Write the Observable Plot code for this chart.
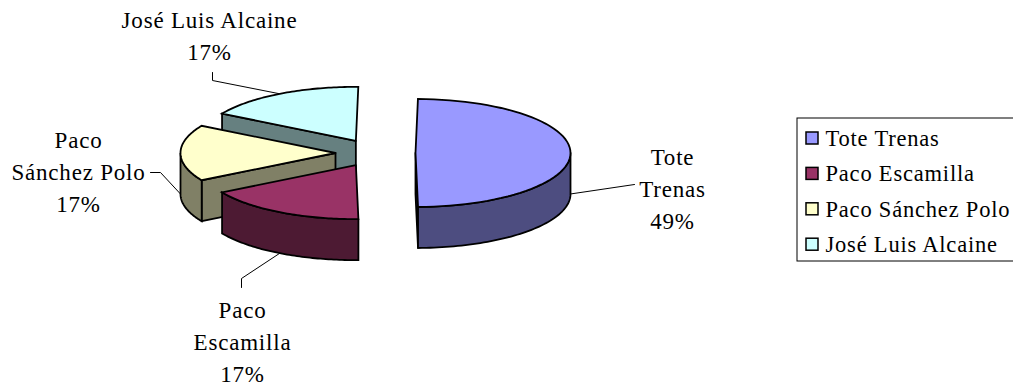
<!DOCTYPE html>
<html lang="es">
<head>
<meta charset="utf-8">
<title>Reparto por autor</title>
<script src="https://cdn.jsdelivr.net/npm/d3@7"></script>
<script src="https://cdn.jsdelivr.net/npm/@observablehq/plot@0.6"></script>
<style>
  html, body { margin: 0; padding: 0; background: #fff; }
</style>
</head>
<body>
<div id="chart"></div>
<script>
// Series
const names = ["Tote Trenas", "Paco Escamilla", "Paco Sánchez Polo", "José Luis Alcaine"];
const shares = [49.49, 16.84, 16.84, 16.83];
const labelNames = ["Tote\nTrenas", "Paco\nEscamilla", "Paco\nSánchez Polo", "José Luis Alcaine"];
const topColors = ["#9999ff", "#993366", "#ffffcc", "#ccffff"];
const wallColors = ["#4d4d80", "#4d1a33", "#808066", "#668080"];

// Exploded pie geometry, in pixels of the drawing
const pie3d = {cx: 375, cy: 152.5, rx: 155, ry: 54, depth: 41, explode: 40, rotation: 0.9};
const width = 1013, height = 389;

const total = d3.sum(shares);
const start = (pie3d.rotation * Math.PI) / 180;
const angles = d3.cumsum([0, ...shares]).map((v) => start + (v / total) * 2 * Math.PI);
const slices = shares.map((value, i) => {
  const a0 = angles[i], a1 = angles[i + 1], mid = (a0 + a1) / 2;
  const ox = pie3d.cx + pie3d.explode * Math.sin(mid);
  const oy = pie3d.cy - (pie3d.explode * pie3d.ry / pie3d.rx) * Math.cos(mid);
  const rim = (a, drop = 0) => ({
    x: ox + pie3d.rx * Math.sin(a),
    y: oy - pie3d.ry * Math.cos(a) + drop
  });
  const apex = (drop = 0) => ({x: ox, y: oy + drop});
  const arc = (from, to, drop = 0) =>
    d3.range(0, 61).map((k) => rim(from + ((to - from) * k) / 60, drop));
  return {i, value, a0, a1, mid, rim, apex, arc};
});

const closed = (pts) => [...pts, pts[0]];
const poly = (pts, fill) =>
  Plot.line(closed(pts), {x: "x", y: "y", fill, stroke: "#000", strokeWidth: 1.8, strokeLinejoin: "miter", strokeMiterlimit: 6});

// Outer wall: the part of the rim that faces the viewer
function outerWall(s) {
  const from = Math.max(s.a0, Math.PI / 2), to = Math.min(s.a1, 1.5 * Math.PI);
  if (from >= to) return [];
  const pts = [...s.arc(from, to), ...s.arc(to, from, pie3d.depth)];
  return [poly(pts, wallColors[s.i])];
}
// Cut face along the given edge angle
function cutFace(s, a) {
  return [poly([s.apex(), s.rim(a), s.rim(a, pie3d.depth), s.apex(pie3d.depth)], wallColors[s.i])];
}
const topFace = (s) => poly([s.apex(), ...s.arc(s.a0, s.a1)], topColors[s.i]);

const [tote, escamilla, sanchez, alcaine] = slices;

const pieMarks = [
  ...cutFace(alcaine, alcaine.a0),
  topFace(alcaine),
  ...cutFace(sanchez, sanchez.a0),
  ...outerWall(sanchez),
  topFace(sanchez),
  ...outerWall(escamilla),
  topFace(escamilla),
  ...cutFace(tote, tote.a1),
  ...outerWall(tote),
  topFace(tote)
];

// Data labels with their leader lines, which start on the slice's mid-angle
const labelLayout = [
  {x: 672, y: 190, elbow: [[634, 184]], drop: pie3d.depth},
  {x: 242, y: 343, elbow: [[241, 278], [241, 287]], drop: pie3d.depth},
  {x: 78, y: 173, elbow: [[160, 172], [150, 172]], drop: pie3d.depth},
  {x: 209, y: 37, elbow: [[212, 80], [212, 72]], drop: 0}
];
const labels = slices.map((s, i) => ({
  text: `${labelNames[i]}\n${Math.round(s.value)}%`,
  x: labelLayout[i].x,
  y: labelLayout[i].y
}));
const leaderMarks = slices.map((s, i) => {
  const begin = s.rim(s.mid, labelLayout[i].drop);
  const pts = [begin, ...labelLayout[i].elbow.map(([x, y]) => ({x, y}))];
  return Plot.line(pts, {x: "x", y: "y", stroke: "#000", strokeWidth: 1});
});

// Legend box on the right; its far side runs past the edge of the drawing
const legendBox = {x1: 797, x2: 1018, y1: 118, y2: 261, rowStart: 138, rowStep: 35.4};
const legendRows = names.map((name, i) => ({
  name,
  color: topColors[i],
  y: legendBox.rowStart + i * legendBox.rowStep
}));

const chart = Plot.plot({
  width,
  height,
  margin: 0,
  style: {fontFamily: "'Liberation Serif', serif", background: "#fff", overflow: "hidden", letterSpacing: "0.8px"},
  x: {domain: [0, width], range: [0, width], axis: null},
  y: {domain: [0, height], range: [0, height], axis: null},
  marks: [
    ...leaderMarks,
    ...pieMarks,
    Plot.text(labels, {
      x: "x",
      y: "y",
      text: "text",
      fontSize: 23,
      lineHeight: 32 / 23,
      dy: -4,
      fill: "#000",
      textAnchor: "middle"
    }),
    Plot.rect([legendBox], {
      x1: "x1", x2: "x2", y1: "y1", y2: "y2",
      fill: "#fff", stroke: "#000", strokeWidth: 1
    }),
    Plot.rect(legendRows, {
      x1: () => 806, x2: () => 818,
      y1: (d) => d.y - 6, y2: (d) => d.y + 6,
      fill: "color", stroke: "#000", strokeWidth: 1.5
    }),
    Plot.text(legendRows, {
      x: () => 825,
      y: "y",
      text: "name",
      fontSize: 22.5,
      fill: "#000",
      textAnchor: "start"
    })
  ]
});

document.getElementById("chart").append(chart);
</script>
</body>
</html>
